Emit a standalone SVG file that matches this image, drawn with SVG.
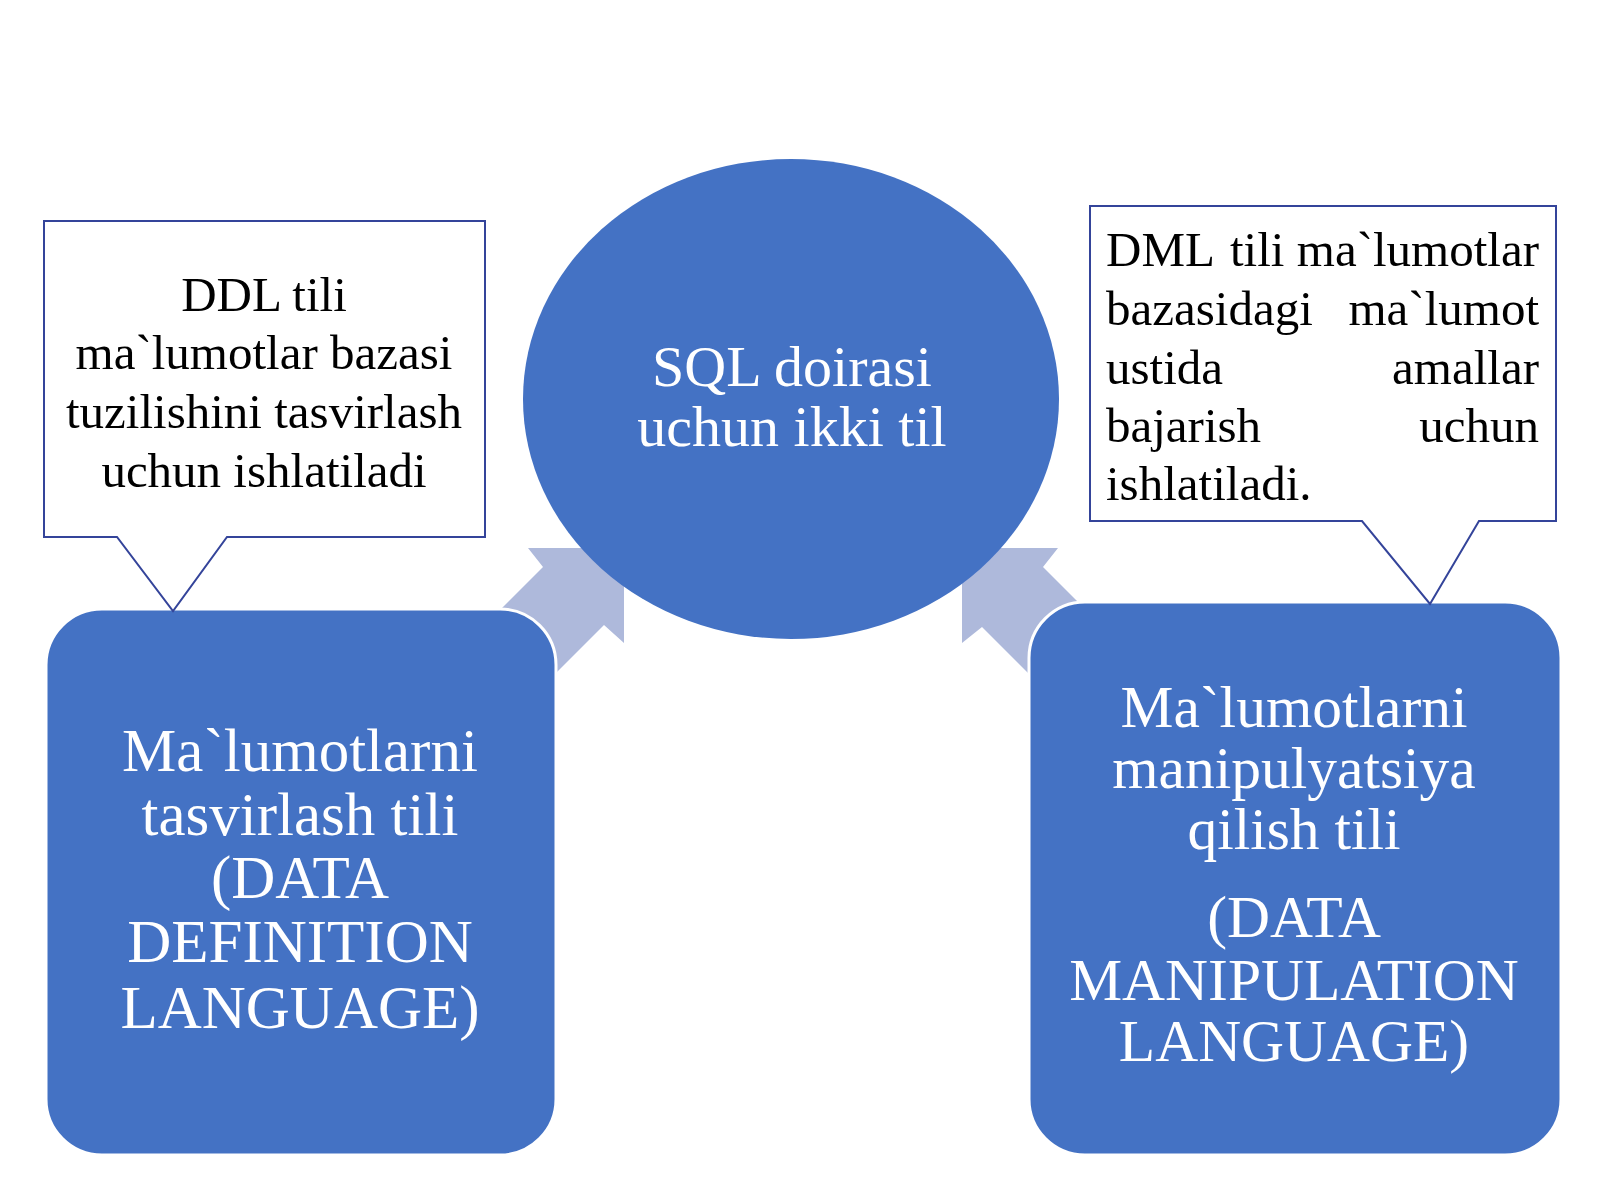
<svg xmlns="http://www.w3.org/2000/svg" width="1600" height="1200" viewBox="0 0 1600 1200">
<style>
.node{fill:#4472C4;stroke:#FFFFFF;stroke-width:3}
.arrow{fill:#AEB9DB;stroke:none}
.callout{fill:#FFFFFF;stroke:#34449A;stroke-width:2;stroke-linejoin:miter}
.wt{font-family:"Liberation Serif","Times New Roman",serif;fill:#FFFFFF;text-anchor:middle}
.bt{font-family:"Liberation Serif","Times New Roman",serif;fill:#000000;font-size:49px}
</style>
<rect x="0" y="0" width="1600" height="1200" fill="#FFFFFF"/>
<g id="connectors">
<path class="arrow" d="M624,548 L624,643 L604,625 L504,725 L443,667 L543,567 L528,548 Z"/>
<path class="arrow" d="M962,548 L962,643 L982,627 L1082,727 L1143,667 L1043,567 L1058,548 Z"/>
</g>
<g id="sql-circle">
<ellipse cx="791" cy="399" rx="268" ry="240" fill="#4472C4"/>
<text class="wt" font-size="58" x="792" y="386">SQL doirasi</text>
<text class="wt" font-size="58" x="792" y="446">uchun ikki til</text>
</g>
<g id="ddl-box">
<rect class="node" x="46" y="609" width="510" height="546" rx="56" ry="56"/>
<text class="wt" font-size="61" x="300" y="771">Ma`lumotlarni</text>
<text class="wt" font-size="61" x="300" y="835">tasvirlash tili</text>
<text class="wt" font-size="61" x="300" y="898">(DATA</text>
<text class="wt" font-size="61" x="300" y="962">DEFINITION</text>
<text class="wt" font-size="61" x="300" y="1028">LANGUAGE)</text>
</g>
<g id="dml-box">
<rect class="node" x="1029" y="602" width="532" height="553" rx="56" ry="56"/>
<text class="wt" font-size="59.5" x="1294" y="727">Ma`lumotlarni</text>
<text class="wt" font-size="59.5" x="1294" y="788">manipulyatsiya</text>
<text class="wt" font-size="59.5" x="1294" y="849">qilish tili</text>
<text class="wt" font-size="59.5" x="1294" y="937">(DATA</text>
<text class="wt" font-size="59.5" x="1294" y="1000">MANIPULATION</text>
<text class="wt" font-size="59.5" x="1294" y="1061">LANGUAGE)</text>
</g>
<g id="ddl-callout">
<path class="callout" d="M44,221 L485,221 L485,537 L227,537 L173,611 L117,537 L44,537 Z"/>
<text class="bt" text-anchor="middle" x="264" y="311">DDL tili</text>
<text class="bt" text-anchor="middle" x="264" y="369">ma`lumotlar bazasi</text>
<text class="bt" text-anchor="middle" x="264" y="428">tuzilishini tasvirlash</text>
<text class="bt" text-anchor="middle" x="264" y="487">uchun ishlatiladi</text>
</g>
<g id="dml-callout">
<path class="callout" d="M1090,206 L1556,206 L1556,521 L1479,521 L1430,604 L1362,521 L1090,521 Z"/>
<text class="bt" x="1106" y="266">DML</text>
<text class="bt" x="1230" y="266">tili</text>
<text class="bt" text-anchor="end" x="1539" y="266">ma`lumotlar</text>
<text class="bt" x="1106" y="325">bazasidagi</text>
<text class="bt" text-anchor="end" x="1539" y="325">ma`lumot</text>
<text class="bt" x="1106" y="384">ustida</text>
<text class="bt" text-anchor="end" x="1539" y="384">amallar</text>
<text class="bt" x="1106" y="442">bajarish</text>
<text class="bt" text-anchor="end" x="1539" y="442">uchun</text>
<text class="bt" x="1106" y="500">ishlatiladi.</text>
</g>
</svg>
